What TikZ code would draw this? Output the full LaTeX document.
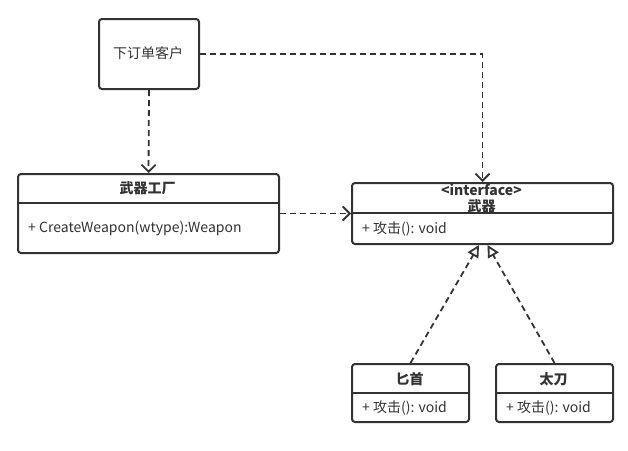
\documentclass[tikz,border=0pt]{standalone}
\usepackage{fontspec}
\setmainfont{Noto Sans CJK SC}
\usetikzlibrary{arrows.meta}
\definecolor{ink}{HTML}{333333}
\tikzset{
  umlbox/.style={draw=ink, line width=2pt, rounded corners=3pt, fill=white, inner sep=0pt, anchor=north west},
  divider/.style={draw=ink, line width=2pt},
  txt/.style={text=ink, font=\fontsize{14}{16}\selectfont, inner sep=0pt},
  ttl/.style={txt, font=\fontsize{14}{16}\selectfont\bfseries},
  dep/.style={draw=ink, line width=1.8pt, dash pattern=on 6pt off 4pt, -{Straight Barb[length=7pt,width=14pt,line width=1.8pt]}},
  real/.style={draw=ink, line width=1.8pt, dash pattern=on 6pt off 4pt, -{Triangle[open,length=12pt,width=12pt,line width=1.8pt]}}
}
\begin{document}
\begin{tikzpicture}[x=1pt,y=-1pt]
\useasboundingbox[fill=white] (0,0) rectangle (628,450);
% client
\node[umlbox, minimum width=100pt, minimum height=70pt] (client) at (98,18) {};
\node[txt] (clienttxt) at (148,53) {下订单客户};
% factory
\node[umlbox, minimum width=261pt, minimum height=79pt] (fac) at (17,173) {};
\draw[divider] ([yshift=-30pt]fac.north west) -- ([yshift=-30pt]fac.north east);
\node[ttl] (factitle) at (147.5,188) {武器工厂};
\node[txt, anchor=west] (facm) at (28,228) {+ CreateWeapon(wtype):Weapon};
% interface
\node[umlbox, minimum width=261pt, minimum height=61pt] (iface) at (351,182) {};
\draw[divider] ([yshift=-31pt]iface.north west) -- ([yshift=-31pt]iface.north east);
\node[ttl] (ifst) at (481.5,190) {<interface>};
\node[ttl] (iftitle) at (481.5,206) {武器};
\node[txt, anchor=west] (ifm) at (362,229) {+ 攻击(): void};
% dagger
\node[umlbox, minimum width=117pt, minimum height=58pt] (dag) at (351,363) {};
\draw[divider] ([yshift=-30pt]dag.north west) -- ([yshift=-30pt]dag.north east);
\node[ttl] (dagtitle) at (409.5,379) {匕首};
\node[txt, anchor=west] (dagm) at (362,408) {+ 攻击(): void};
% tachi
\node[umlbox, minimum width=117pt, minimum height=58pt] (tachi) at (495,363) {};
\draw[divider] ([yshift=-30pt]tachi.north west) -- ([yshift=-30pt]tachi.north east);
\node[ttl] (tachititle) at (553.5,379) {太刀};
\node[txt, anchor=west] (tachim) at (506,408) {+ 攻击(): void};
% connectors
\draw[dep] (client.south) -- (fac.north);
\draw[dep] (client.east) -| (iface.north);
\draw[dep] (fac.east) -- (iface.west);
\coordinate (tipL) at ([xshift=-3.5pt]iface.south);
\coordinate (tipR) at ([xshift=5pt]iface.south);
\draw[real] (dag.north) -- (tipL);
\draw[real] (tachi.north) -- (tipR);
\end{tikzpicture}
\end{document}
